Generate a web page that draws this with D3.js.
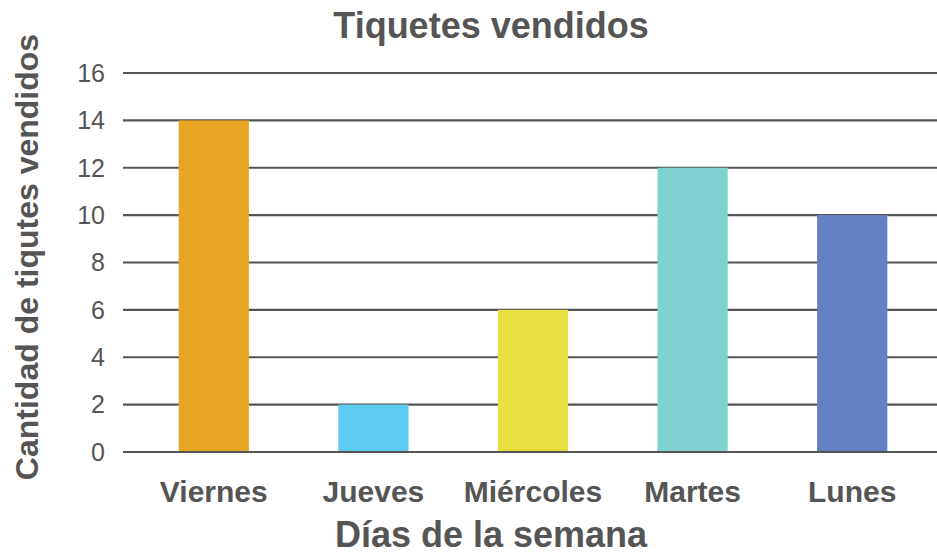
<!DOCTYPE html>
<html lang="es">
<head>
<meta charset="utf-8">
<title>Tiquetes vendidos</title>
<script src="https://d3js.org/d3.v7.min.js"></script>
<style>
  body { margin: 0; background: #fff; }
  text { font-family: Arial, "Liberation Sans", sans-serif; fill: #555; }
</style>
</head>
<body>
<div id="chart"></div>
<script>
var dias = ["Viernes", "Jueves", "Miércoles", "Martes", "Lunes"];
var tiquetes = [14, 2, 6, 12, 10];
var colores = ["#E8A524", "#5ECBF2", "#E8DF40", "#80D2D0", "#6381C4"];
var ticks = [0, 2, 4, 6, 8, 10, 12, 14, 16];

var width = 937, height = 555;
var svg = d3.select("#chart").append("svg")
  .attr("width", width).attr("height", height);

var y = d3.scaleLinear().domain([0, 16]).range([452, 73]);
var x = d3.scaleBand().domain(dias).range([134, 932]).paddingInner(0.56).paddingOuter(0.28);

// gridlines
svg.append("g").selectAll("line").data(ticks).enter().append("line")
  .attr("x1", 123).attr("x2", 937)
  .attr("y1", function (d) { return y(d); })
  .attr("y2", function (d) { return y(d); })
  .attr("stroke", "#555").attr("stroke-width", 2.2);

// tick labels
svg.append("g").selectAll("text").data(ticks).enter().append("text")
  .attr("x", 105).attr("y", function (d) { return y(d); })
  .attr("dy", "0.35em")
  .attr("text-anchor", "end")
  .style("font-size", "25px")
  .text(function (d) { return d; });

// bars
svg.append("g").selectAll("rect").data(tiquetes).enter().append("rect")
  .attr("x", function (d, i) { return x(dias[i]); })
  .attr("width", x.bandwidth())
  .attr("y", function (d) { return y(d); })
  .attr("height", function (d) { return y(0) - y(d) - 1; })
  .attr("fill", function (d, i) { return colores[i]; });

// category labels
svg.append("g").selectAll("text").data(dias).enter().append("text")
  .attr("x", function (d) { return x(d) + x.bandwidth() / 2; })
  .attr("y", 502)
  .attr("text-anchor", "middle")
  .style("font-size", "30px").style("font-weight", "bold")
  .text(function (d) { return d; });

svg.append("text")
  .attr("x", 491).attr("y", 38)
  .attr("text-anchor", "middle")
  .style("font-size", "36px").style("font-weight", "bold")
  .text("Tiquetes vendidos");

svg.append("text")
  .attr("x", 491).attr("y", 547)
  .attr("text-anchor", "middle")
  .style("font-size", "36px").style("font-weight", "bold")
  .text("Días de la semana");

svg.append("text")
  .attr("transform", "translate(38,257) rotate(-90)")
  .attr("text-anchor", "middle")
  .style("font-size", "32px").style("font-weight", "bold")
  .text("Cantidad de tiqutes vendidos");
</script>
</body>
</html>
